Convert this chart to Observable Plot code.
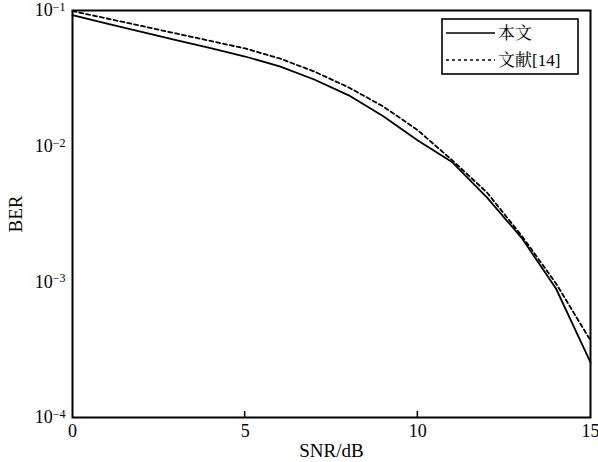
<!DOCTYPE html>
<html>
<head>
<meta charset="utf-8">
<script src="https://cdn.jsdelivr.net/npm/d3@7"></script>
<script src="https://cdn.jsdelivr.net/npm/@observablehq/plot@0.6"></script>
<style>
  html, body { margin: 0; padding: 0; background: #fff; }
  svg, svg text { font-family: "Liberation Serif", "Noto Serif CJK SC", "Noto Sans CJK SC", serif !important; }
</style>
</head>
<body>
<div id="chart"></div>
<script>
const snr = [0, 1, 2, 3, 4, 5, 6, 7, 8, 9, 10, 11, 12, 13, 14, 15];
const berThis = [0.0923, 0.0800, 0.0697, 0.0606, 0.0527, 0.0458, 0.0387, 0.0310, 0.0237, 0.0166, 0.0110, 0.0076, 0.00419, 0.00212, 0.000893, 0.000255];
const berRef = [0.0990, 0.0873, 0.0769, 0.0677, 0.0596, 0.0525, 0.0443, 0.0355, 0.0271, 0.0196, 0.0131, 0.00785, 0.00456, 0.0022, 0.000973, 0.00037];
const seriesNames = ["本文", "文献[14]"];
const yTicks = [1e-1, 1e-2, 1e-3, 1e-4];
const xTicks = [0, 5, 10, 15];
const innerTicks = [5, 10];

const data = [];
snr.forEach((x, i) => {
  data.push({x, y: berThis[i], s: seriesNames[0]});
  data.push({x, y: berRef[i], s: seriesNames[1]});
});

const W = 598, H = 462;
const plot = Plot.plot({
  width: W,
  height: H,
  marginLeft: 72,
  marginRight: 8,
  marginTop: 10,
  marginBottom: 45,
  style: {background: "#fff"},
  x: {domain: [0, 15]},
  y: {type: "log", domain: [1e-4, 1e-1]},
  marks: [
    Plot.line(data.filter(d => d.s === seriesNames[0]), {x: "x", y: "y", stroke: "#000", strokeWidth: 1.8}),
    Plot.line(data.filter(d => d.s === seriesNames[1]), {x: "x", y: "y", stroke: "#000", strokeWidth: 1.8, strokeDasharray: "4,3"}),
    Plot.axisX(xTicks, {tickSize: 0, tickPadding: 7, label: "SNR/dB", labelAnchor: "center", labelArrow: "none", labelOffset: 39}),
    Plot.axisY(yTicks, {tickSize: 0, tickPadding: 7, tickFormat: d => "10^" + Math.round(Math.log10(d)), label: "BER", labelAnchor: "center", labelArrow: "none", labelOffset: 64}),
    Plot.frame({stroke: "#000", strokeWidth: 2})
  ]
});

document.getElementById("chart").appendChild(plot);
const svg = d3.select(plot);
svg.selectAll("text").style("font-size", "18px").style("fill", "#000");
svg.selectAll('g[aria-label="x-axis label"] text, g[aria-label="y-axis label"] text').style("font-size", "19px");
// superscript exponents
svg.selectAll("text").each(function() {
  const t = d3.select(this);
  const txt = t.text();
  const m = /^10\^(-?\d+)$/.exec(txt);
  if (m) {
    t.text("");
    t.append("tspan").text("10");
    t.append("tspan").attr("dy", "-0.45em").style("font-size", "12px").text(m[1].replace("-", "−"));
  }
});

// inner ticks on the bottom axis
const xs = plot.scale("x");
const yBottom = H - 45;
svg.append("g").selectAll("line").data(innerTicks).join("line")
  .attr("x1", d => xs.apply(d)).attr("x2", d => xs.apply(d))
  .attr("y1", yBottom).attr("y2", yBottom - 6)
  .attr("stroke", "#000").attr("stroke-width", 1.5);

// legend
const lg = svg.append("g").attr("text-anchor", "start");
lg.append("rect").attr("x", 442).attr("y", 19).attr("width", 136).attr("height", 55)
  .attr("fill", "#fff").attr("stroke", "#000").attr("stroke-width", 1.6);
const rows = [{name: seriesNames[0], dash: null, y: 33}, {name: seriesNames[1], dash: "3,3", y: 60}];
rows.forEach(r => {
  lg.append("line").attr("x1", 446).attr("x2", 495).attr("y1", r.y).attr("y2", r.y)
    .attr("stroke", "#000").attr("stroke-width", 1.5).attr("stroke-dasharray", r.dash);
  lg.append("text").attr("x", 498).attr("y", r.y).attr("dy", "0.35em")
    .style("font-size", "17px").attr("fill", "#000").text(r.name);
});
</script>
</body>
</html>
